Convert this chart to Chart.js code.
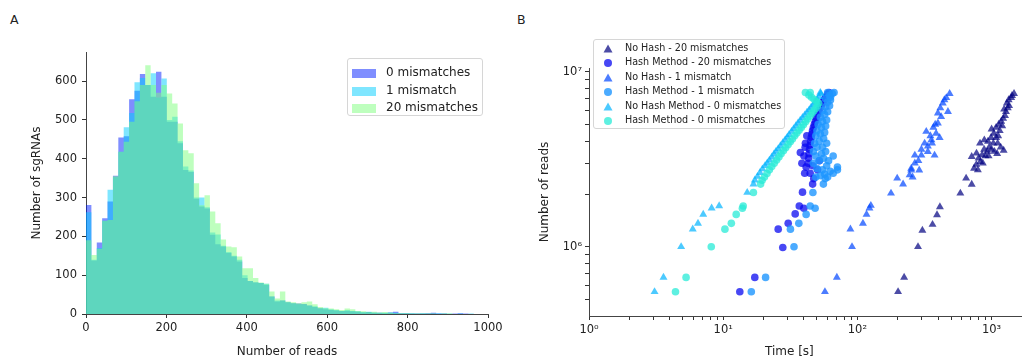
<!DOCTYPE html>
<html>
<head>
<meta charset="utf-8">
<script src="https://cdn.jsdelivr.net/npm/chart.js@4.4.0/dist/chart.umd.min.js"></script>
<style>
  body { margin: 0; width: 1026px; height: 360px; background: #fff; position: relative; overflow: hidden; font-family: "DejaVu Sans", sans-serif; color: #222; }
  #wrapA { position: absolute; left: 0; top: 0; width: 512px; height: 360px; }
  #wrapB { position: absolute; left: 512px; top: 0; width: 514px; height: 360px; }
  .tag { position: absolute; font-size: 12.5px; }
  .legend { position: absolute; border: 1px solid #d6d6d6; border-radius: 3px; background: rgba(255,255,255,0.85); box-sizing: border-box; }
  .row { position: absolute; left: 0; white-space: nowrap; }
  .row svg { position: absolute; }
  .row span { position: absolute; }
  #timeTitle { position: absolute; font-size: 12px; top: 344px; left: 765px; }
</style>
</head>
<body>
<div class="tag" style="left:10px;top:12px">A</div>
<div class="tag" style="left:517px;top:12px">B</div>
<div id="wrapA"><canvas id="chartA" width="512" height="360"></canvas></div>
<div id="wrapB"><canvas id="chartB" width="514" height="360"></canvas></div>
<div id="legendA" class="legend" style="left:347px;top:58px;width:136px;height:58px"></div>
<div id="legendB" class="legend" style="left:593px;top:39px;width:192px;height:90px"></div>
<div id="timeTitle">Time [s]</div>
<script>
// Panel A: histogram of reads per sgRNA (bin width ~13.4 reads)
const BIN_WIDTH = 13.4;
const zeroMismatch = [281,138,184,247,290,356,455,458,553,575, 618,590,560,624,560,495,495,440,371,366,
  297,277,272,204,180,174,157,148,135,93, 85,81,80,75,45,32,35,30,28,27,
  26,22,18,15,12,10,9,8,8,7, 6,4,5,3,3,2,4,6,2,2, 1,1,1,2,3,1,1,0,1,2,1,0];
const oneMismatch = [262,140,170,240,320,352,418,481,518,597, 608,590,620,558,607,500,508,445,380,370,
  300,300,275,210,205,176,160,150,140,100, 85,82,80,78,45,35,35,30,28,25,
  25,22,20,15,16,12,10,8,10,8, 7,5,6,4,3,3,4,3,2,2, 2,1,2,1,1,2,1,1,0,1,0,1];
const twentyMismatch = [190,152,168,240,242,355,418,444,495,548, 590,641,590,570,590,568,542,491,422,414,
  337,280,306,264,234,192,174,172,148,118, 118,93,81,78,58,40,58,32,30,28,
  30,32,25,18,15,14,12,10,14,12, 8,7,5,6,4,5,3,2,2,2, 1,1,1,1,1,0,1,1,0,0,0,0];
const histLabels = ['0 mismatches', '1 mismatch', '20 mismatches'];
const histXTicks = [0, 200, 400, 600, 800, 1000];
const histYTicks = [0, 100, 200, 300, 400, 500, 600];

// Panel B: reads vs time, [seconds, reads]
const noHash20 = [[201,5.53e5],[223,6.68e5],[283,1.0e6],[305,1.24e6],[363,1.34e6],[392,1.52e6],[412,1.69e6],[585,2.02e6],[711,2.27e6],[646,2.46e6],
  [740,2.8e6],[790,2.75e6],[770,2.95e6],[826,3.06e6],[800,3.2e6],[860,3.0e6],[772,3.42e6],[711,3.27e6],[850,3.35e6],[900,3.3e6],[930,3.5e6],
  [880,3.6e6],[960,3.7e6],[1000,3.6e6],[1050,3.5e6],[1100,3.4e6],[1170,3.7e6],[1230,3.55e6],[820,3.9e6],[883,4.07e6],[940,4.0e6],[990,4.2e6],
  [1040,4.44e6],[1080,4.2e6],[1120,4.3e6],[1150,4.6e6],[1000,4.7e6],[1080,4.8e6],[1130,5.0e6],[1180,5.2e6],[1220,5.4e6],[1200,4.9e6],
  [1260,5.6e6],[1280,5.9e6],[1240,6.1e6],[1320,6.2e6],[1300,6.6e6],[1350,6.4e6],[1340,6.9e6],[1400,7.1e6],[1470,7.5e6],[1420,7.3e6],
  [1030,3.9e6],[950,3.3e6],[1110,3.9e6]];
const hash20 = [[13.3,5.53e5],[17.2,6.68e5],[27.8,9.9e5],[25.7,1.26e6],[30.5,1.36e6],[34.4,1.54e6],[36.9,1.71e6],[39.9,1.66e6],[39.0,2.05e6],[46.4,2.28e6],[47.3,2.45e6],
  [40.5,2.63e6],[44.5,2.63e6],[41.5,2.85e6],[46.5,2.9e6],[38.6,3.0e6],[40.0,3.3e6],[37.6,3.45e6],[41.0,3.9e6],[42.0,4.3e6],[50.5,2.75e6],[52.0,3.1e6],[40.8,3.7e6],
  [43.0,3.0e6],[43.3,3.2e6],[43.6,3.4e6],[44.0,3.6e6],[44.4,3.8e6],[44.8,4.0e6],[45.3,4.2e6],[45.8,4.4e6],[46.3,4.6e6],[47.0,4.8e6],[47.8,5.0e6],
  [48.6,5.2e6],[49.5,5.45e6],[50.5,5.7e6],[51.6,5.95e6],[52.8,6.2e6],[54.0,6.45e6],[55.4,6.7e6],[56.8,6.95e6],[58.3,7.2e6],[60.0,7.45e6],[61.5,7.6e6]];
const noHash1 = [[57.3,5.53e5],[70.3,6.68e5],[91.2,1.0e6],[88.7,1.26e6],[110,1.36e6],[117,1.53e6],[123,1.66e6],[126,1.72e6],[178,2.02e6],[219,2.28e6],[198,2.46e6],
  [245,2.57e6],[252,2.8e6],[289,2.74e6],[268,3.0e6],[300,3.33e6],[335,3.49e6],[268,3.33e6],[317,3.9e6],[356,4.07e6],[326,4.55e6],[386,4.44e6],
  [398,5.08e6],[421,5.53e6],[398,5.8e6],[473,5.91e6],[433,6.6e6],[445,6.9e6],[487,7.5e6],[410,4.2e6],[368,4.8e6],[335,3.75e6],[285,3.1e6],
  [252,2.74e6],[258,2.5e6],[376,3.33e6],[350,4.3e6],[380,5.0e6],[415,6.2e6],[460,7.1e6],[300,3.6e6],[360,3.9e6]];
const hash1 = [[16.2,5.53e5],[20.7,6.68e5],[33.7,1.0e6],[31.7,1.26e6],[36.6,1.36e6],[41.5,1.53e6],[44.5,1.71e6],[48.4,1.66e6],[46.6,2.04e6],[55.8,2.28e6],
  [57.6,2.45e6],[62.7,2.7e6],[66,3.3e6],[71,2.85e6],[71,2.75e6],
  [49,2.5e6],[53,2.55e6],[57,2.6e6],[60,2.5e6],[66,2.63e6],[59,2.9e6],[55,2.75e6],[50,2.8e6],[47,3.0e6],[52,3.1e6],[56,3.2e6],[61,3.1e6],
  [49,3.3e6],[54,3.4e6],[58,3.5e6],[47,3.5e6],[50,3.7e6],[55,3.7e6],[59,3.9e6],[48,3.9e6],[52,4.0e6],[56,4.15e6],[49,4.3e6],[53,4.4e6],
  [57,4.5e6],[50,4.6e6],[54,4.8e6],[58,4.9e6],[51,5.0e6],[55,5.2e6],[59,5.3e6],[53,5.5e6],[57,5.7e6],[60,5.9e6],[55,6.0e6],[58,6.3e6],
  [62,6.4e6],[60,6.7e6],[63,6.9e6],[58,7.0e6],[62,7.3e6],[65,7.5e6],[67,7.6e6],[60,7.6e6],[63,7.15e6]];
const noHash0 = [[3.08,5.53e5],[3.59,6.68e5],[4.86,1.0e6],[5.93,1.26e6],[6.49,1.36e6],[7.1,1.53e6],[8.2,1.66e6],[9.33,1.71e6],[15.1,2.04e6],[16.8,2.28e6],
  [17.2,2.4e6],[18.0,2.52e6],[18.8,2.65e6],[19.6,2.78e6],[20.5,2.9e6],[21.3,3.0e6],[22.1,3.12e6],[23.0,3.25e6],[23.9,3.38e6],[24.7,3.5e6],
  [25.7,3.63e6],[26.7,3.77e6],[27.8,3.92e6],[28.9,4.07e6],[30.0,4.22e6],[31.0,4.37e6],[32.3,4.55e6],[33.5,4.72e6],[34.8,4.9e6],[36.1,5.08e6],
  [37.5,5.27e6],[39.0,5.46e6],[40.5,5.65e6],[42.1,5.85e6],[43.7,6.04e6],[45.2,6.25e6],[46.8,6.45e6],[48.5,6.7e6],[50.1,6.95e6],[51.7,7.2e6],
  [53.3,7.5e6],[52.9,7.6e6]];
const hash0 = [[4.41,5.53e5],[5.29,6.68e5],[8.15,1.0e6],[10.3,1.26e6],[11.5,1.36e6],[12.5,1.53e6],[14.1,1.71e6],[13.9,1.66e6],[16.8,2.04e6],[19.0,2.28e6],
  [19.5,2.4e6],[20.3,2.5e6],[21.2,2.62e6],[22.1,2.75e6],[23.0,2.87e6],[24.0,3.0e6],[25.0,3.13e6],[26.0,3.26e6],[27.0,3.4e6],[28.1,3.54e6],
  [29.2,3.68e6],[30.4,3.83e6],[31.6,3.98e6],[32.8,4.13e6],[34.1,4.3e6],[35.4,4.46e6],[36.8,4.63e6],[38.2,4.8e6],[39.6,4.98e6],[41.1,5.17e6],
  [42.6,5.37e6],[44.2,5.57e6],[45.8,5.77e6],[47.3,5.97e6],[48.8,6.17e6],[50.3,6.37e6],
  [41.0,7.6e6],[43.5,7.35e6],[45.5,7.15e6],[47.5,6.95e6],[49.5,6.75e6],[51.5,6.6e6],[44.5,7.6e6]];
const scatterLabels = ['No Hash - 20 mismatches', 'Hash Method - 20 mismatches', 'No Hash - 1 mismatch',
  'Hash Method - 1 mismatch', 'No Hash Method - 0 mismatches', 'Hash Method - 0 mismatches'];
const timeTicks = [1,2,3,4,5,6,7,8,9,10,20,30,40,50,60,70,80,90,100,200,300,400,500,600,700,800,900,1000];
const readsTicks = [5e5,6e5,7e5,8e5,9e5,1e6,2e6,3e6,4e6,5e6,6e6,7e6,8e6,9e6,1e7];
const timeMajor = { 1: '10⁰', 10: '10¹', 100: '10²', 1000: '10³' };
const readsMajor = { 1000000: '10⁶', 10000000: '10⁷' };

const histColors = ['rgba(0,30,255,0.5)', 'rgba(0,205,255,0.5)', 'rgba(125,255,125,0.5)'];
const scatterColors = ['rgba(0,0,128,0.7)', 'rgba(10,10,240,0.75)', 'rgba(0,70,255,0.7)',
  'rgba(30,150,255,0.8)', 'rgba(0,180,255,0.7)', 'rgba(40,235,215,0.75)'];
const scatterShapes = ['triangle', 'circle', 'triangle', 'circle', 'triangle', 'circle'];

function histSet(counts, color, order) {
    const pts = counts.map((c, i) => ({ x: i * BIN_WIDTH, y: c }));
    pts.push({ x: counts.length * BIN_WIDTH, y: 0 });
    return { data: pts, stepped: true, fill: 'origin', backgroundColor: color, borderWidth: 0, pointRadius: 0, order };
}

function axis(extra) {
    return Object.assign({
        grid: { drawOnChartArea: false, tickLength: 4, tickColor: '#333', tickWidth: 1 },
        border: { color: '#444', width: 1 },
    }, extra);
}

const tickFont = { family: 'DejaVu Sans', size: 11.5 };
const titleFont = { family: 'DejaVu Sans', size: 12 };

new Chart(document.getElementById('chartA'), {
    type: 'line',
    data: { datasets: [
        histSet(zeroMismatch, histColors[0], 3),
        histSet(oneMismatch, histColors[1], 2),
        histSet(twentyMismatch, histColors[2], 1)
    ] },
    options: {
        responsive: false, animation: false, devicePixelRatio: 1,
        layout: { padding: { left: 26, top: 52, right: 24, bottom: 0 } },
        plugins: { legend: { display: false }, tooltip: { enabled: false } },
        scales: {
            x: axis({
                type: 'linear', min: 0, max: 1000,
                afterFit: s => { s.height = 46; },
                afterBuildTicks: s => { s.ticks = histXTicks.map(v => ({ value: v })); },
                ticks: { color: '#222', font: tickFont, padding: 3, maxRotation: 0, autoSkip: false, callback: v => String(v) },
                title: { display: true, text: 'Number of reads', color: '#222', font: titleFont, padding: { top: 0, bottom: 1 } }
            }),
            y: axis({
                type: 'linear', min: 0, max: 675,
                afterFit: s => { s.width = 60; },
                afterBuildTicks: s => { s.ticks = histYTicks.map(v => ({ value: v })); },
                ticks: { color: '#222', font: tickFont, padding: 5, autoSkip: false, callback: v => String(v) },
                title: { display: true, text: 'Number of sgRNAs', color: '#222', font: titleFont, padding: { top: 4, bottom: 0 } }
            })
        }
    }
});

const series = [noHash20, hash20, noHash1, hash1, noHash0, hash0];
new Chart(document.getElementById('chartB'), {
    type: 'scatter',
    data: { datasets: series.map((s, i) => ({
        label: scatterLabels[i],
        data: s.map(p => ({ x: p[0], y: p[1] })),
        pointStyle: scatterShapes[i],
        pointRadius: scatterShapes[i] === 'triangle' ? 4.6 : 3.8,
        backgroundColor: scatterColors[i],
        borderWidth: 0,
        order: 6 - i
    })) },
    options: {
        responsive: false, animation: false, devicePixelRatio: 1,
        layout: { padding: { left: 22, top: 68, right: 2, bottom: 0 } },
        plugins: { legend: { display: false }, tooltip: { enabled: false } },
        scales: {
            x: axis({
                type: 'logarithmic', min: 1, max: 1668,
                afterFit: s => { s.height = 44; },
                afterBuildTicks: s => { s.ticks = timeTicks.map(v => ({ value: v })); },
                ticks: { color: '#222', font: tickFont, padding: 3, maxRotation: 0, autoSkip: false, callback: v => timeMajor[v] || '' },
                title: { display: false }
            }),
            y: axis({
                type: 'logarithmic', min: 4.02e5, max: 1.05e7,
                afterFit: s => { s.width = 55; },
                afterBuildTicks: s => { s.ticks = readsTicks.map(v => ({ value: v })); },
                ticks: { color: '#222', font: tickFont, padding: 3, autoSkip: false, callback: v => readsMajor[v] || '' },
                title: { display: true, text: 'Number of reads', color: '#222', font: titleFont, padding: { top: 4, bottom: 0 } }
            })
        }
    }
});

// legends
const legA = document.getElementById('legendA');
legA.innerHTML = histLabels.map((l, i) =>
    `<div class="row" style="top:${5 + i * 17.6}px;height:18px;width:100%">
       <svg width="24" height="9" style="left:4px;top:5px"><rect width="24" height="9" fill="${histColors[i]}"/></svg>
       <span style="left:38px;top:1px;font-size:12px">${l}</span></div>`).join('');

const legB = document.getElementById('legendB');
legB.innerHTML = scatterLabels.map((l, i) => {
    const shape = scatterShapes[i] === 'triangle'
        ? `<polygon points="5,0.5 9.5,8.5 0.5,8.5" fill="${scatterColors[i]}"/>`
        : `<circle cx="5" cy="5" r="4" fill="${scatterColors[i]}"/>`;
    return `<div class="row" style="top:${1 + i * 14.4}px;height:14px;width:100%">
       <svg width="10" height="10" style="left:9px;top:3px">${shape}</svg>
       <span style="left:31px;top:1px;font-size:9.6px">${l}</span></div>`;
}).join('');
</script>
</body>
</html>
